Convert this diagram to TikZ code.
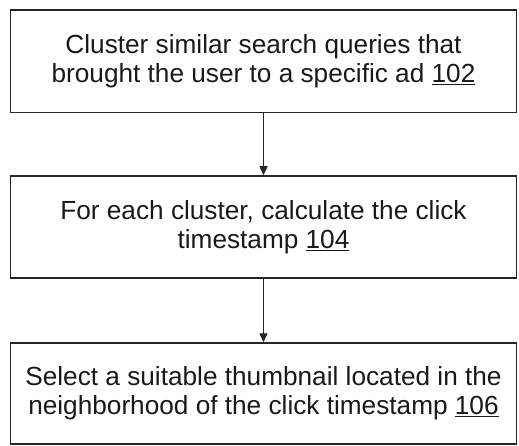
\documentclass[tikz,border=0pt]{standalone}
\usepackage{fontspec}
\setmainfont{Liberation Sans}
\usetikzlibrary{arrows.meta}
\begin{document}
\begin{tikzpicture}[x=1pt,y=1pt,
  stepbox/.style={draw=black!85, line width=1.5pt, rectangle, minimum width=506pt,
    align=center, inner sep=0pt, font=\fontsize{26.2}{29}\selectfont, text=black!90},
  flow/.style={draw=black!85, line width=1.4pt, -{Triangle[length=9pt,width=8pt]}}]
\useasboundingbox (0,0) rectangle (519,-446);
\node[stepbox, minimum height=102.5pt] (s1) at (263.5,-61.5)
  {Cluster similar search queries that\\brought the user to a specific ad \underline{102}};
\node[stepbox, minimum height=102pt] (s2) at (263.5,-227)
  {For each cluster, calculate the click\\timestamp \underline{104}};
\node[stepbox, minimum height=101pt] (s3) at (263.5,-393.5)
  {Select a suitable thumbnail located in the\\neighborhood of the click timestamp \underline{106}};
\draw[flow] (s1) -- (s2);
\draw[flow] (s2) -- (s3);
\end{tikzpicture}
\end{document}
